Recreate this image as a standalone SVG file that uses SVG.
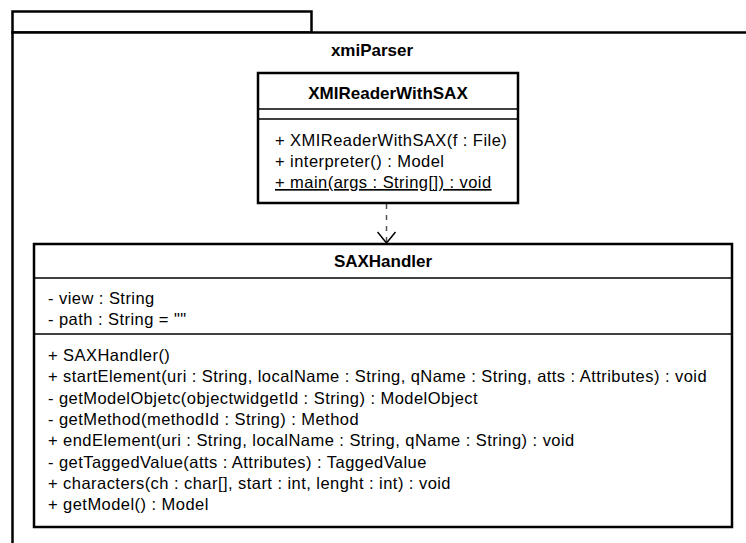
<svg xmlns="http://www.w3.org/2000/svg" width="746" height="543" viewBox="0 0 746 543">
<style>
.frame{fill:#fff;stroke:#000;stroke-width:2.5}
.box{fill:#fff;stroke:#000;stroke-width:2.5}
.sep{stroke:#000;stroke-width:1.3}
.t{font-family:"Liberation Sans",Arial,sans-serif;font-size:16.5px;letter-spacing:0.45px;fill:#000}
.b{font-family:"Liberation Sans",Arial,sans-serif;font-size:17px;font-weight:bold;fill:#000;text-anchor:middle}
.dash{stroke:#555;stroke-width:1.5;stroke-dasharray:5 6;fill:none}
</style>
<defs>
<marker id="open" markerWidth="20" markerHeight="20" refX="12" refY="10" orient="auto" markerUnits="userSpaceOnUse" viewBox="0 0 20 20">
<path d="M1 1 L12 10 L1 19" fill="none" stroke="#000" stroke-width="1.5"/>
</marker>
</defs>
<g id="package-xmiParser">
<rect class="frame" x="12.5" y="11.5" width="299" height="21"/>
<rect class="frame" x="12.5" y="32.5" width="760" height="540"/>
<text class="b" x="372" y="56">xmiParser</text>
</g>
<g id="connectors">
<path class="dash" d="M386.5 204 L386.5 243" marker-end="url(#open)"/>
</g>
<g id="XMIReaderWithSAX">
<rect class="box" x="258" y="73" width="260" height="130"/>
<line class="sep" x1="258" y1="109" x2="518" y2="109"/>
<line class="sep" x1="258" y1="119" x2="518" y2="119"/>
<text class="b" x="388" y="99">XMIReaderWithSAX</text>
<text class="t" x="275" y="146">+ XMIReaderWithSAX(f : File)</text>
<text class="t" x="275" y="167">+ interpreter() : Model</text>
<text class="t" x="275" y="188" text-decoration="underline">+ main(args : String[]) : void</text>
</g>
<g id="SAXHandler">
<rect class="box" x="34" y="244" width="698" height="283"/>
<line class="sep" x1="34" y1="278" x2="732" y2="278"/>
<line class="sep" x1="34" y1="334" x2="732" y2="334"/>
<text class="b" x="383" y="267">SAXHandler</text>
<text class="t" x="48" y="304">- view : String</text>
<text class="t" x="48" y="325">- path : String = ""</text>
<text class="t" x="48" y="361">+ SAXHandler()</text>
<text class="t" x="48" y="382">+ startElement(uri : String, localName : String, qName : String, atts : Attributes) : void</text>
<text class="t" x="48" y="404">- getModelObjetc(objectwidgetId : String) : ModelObject</text>
<text class="t" x="48" y="425">- getMethod(methodId : String) : Method</text>
<text class="t" x="48" y="446">+ endElement(uri : String, localName : String, qName : String) : void</text>
<text class="t" x="48" y="468">- getTaggedValue(atts : Attributes) : TaggedValue</text>
<text class="t" x="48" y="489">+ characters(ch : char[], start : int, lenght : int) : void</text>
<text class="t" x="48" y="510">+ getModel() : Model</text>
</g>
</svg>
